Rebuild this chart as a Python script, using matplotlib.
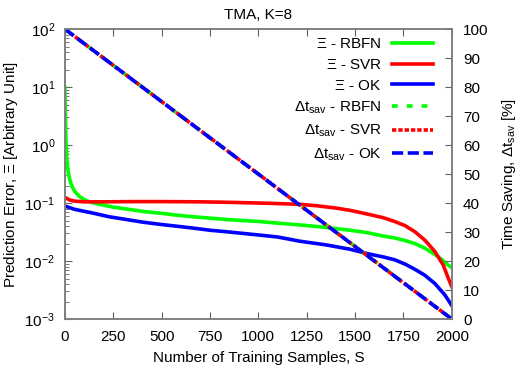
import matplotlib
matplotlib.use("Agg")
import matplotlib.pyplot as plt

plt.rcParams['font.family'] = ['Liberation Sans', 'DejaVu Sans']
plt.rcParams['mathtext.fontset'] = 'custom'
plt.rcParams['mathtext.rm'] = 'Liberation Sans'
plt.rcParams['mathtext.it'] = 'Liberation Sans'
plt.rcParams['font.size'] = 11

# prediction error curves
s_rbfn = [0, 3, 6, 10, 15, 20, 26, 35, 52, 78, 110, 146, 200, 250, 319, 400, 491, 575,
          663, 750, 836, 1008, 1100, 1214, 1350, 1473, 1560, 1645, 1705, 1760, 1809,
          1860, 1912, 1950, 1981, 2000]
err_rbfn = [10, 3.0, 1.2, 0.6, 0.4, 0.31, 0.25, 0.2, 0.157, 0.128, 0.11, 0.101, 0.092,
            0.085, 0.079, 0.072, 0.067, 0.062, 0.058, 0.055, 0.052, 0.048, 0.045, 0.042,
            0.038, 0.034, 0.031, 0.027, 0.025, 0.0225, 0.020, 0.0167, 0.013, 0.0105,
            0.0085, 0.0077]

s_svr = [0, 10, 25, 50, 100, 200, 350, 500, 700, 850, 1008, 1100, 1214, 1300, 1400,
         1473, 1560, 1645, 1705, 1757, 1809, 1860, 1912, 1955, 1981, 2000]
err_svr = [0.125, 0.12, 0.113, 0.108, 0.105, 0.105, 0.106, 0.106, 0.105, 0.103, 0.1,
           0.098, 0.095, 0.09, 0.082, 0.075, 0.065, 0.056, 0.048, 0.041, 0.032, 0.023,
           0.0146, 0.0086, 0.0051, 0.0036]

s_ok = [0, 50, 146, 230, 319, 400, 491, 575, 663, 750, 836, 1008, 1100, 1214, 1350,
        1473, 1560, 1645, 1705, 1760, 1809, 1860, 1912, 1964, 2000]
err_ok = [0.089, 0.078, 0.067, 0.058, 0.052, 0.047, 0.043, 0.04, 0.037, 0.034, 0.032,
          0.028, 0.026, 0.022, 0.019, 0.016, 0.0135, 0.0118, 0.0105, 0.0088, 0.0072,
          0.0057, 0.0041, 0.0026, 0.0017]

# time saving (identical for all three)
s_sav = [0, 2000]
t_sav = [100, 0]

fig = plt.figure(figsize=(5.23, 3.68), dpi=100)
ax = fig.add_axes([0.124, 0.133, 0.740, 0.788])
ax2 = ax.twinx()

GREEN, RED, BLUE = '#00ff00', '#ff0000', '#0000ff'
lw = 2.6

l1, = ax.plot(s_rbfn, err_rbfn, color=GREEN, lw=lw)
l2, = ax.plot(s_svr, err_svr, color=RED, lw=lw)
l3, = ax.plot(s_ok, err_ok, color=BLUE, lw=lw)
l4, = ax2.plot(s_sav, t_sav, color=GREEN, lw=lw, dashes=(1.6, 2.5))
l5, = ax2.plot(s_sav, t_sav, color=RED, lw=lw, dashes=(1.2, 0.55))
l6, = ax2.plot(s_sav, t_sav, color=BLUE, lw=lw, dashes=(3.1, 1.25))

ax.set_yscale('log')
ax.set_ylim(1e-3, 1e2)
ax.set_xlim(0, 2000)
ax.set_xticks(range(0, 2001, 250))
ax2.set_ylim(0, 100)
ax2.set_yticks(range(0, 101, 10))

for a in (ax, ax2):
    for sp in a.spines.values():
        sp.set_color('#808080')
        sp.set_linewidth(1.2)
ax.tick_params(which='both', direction='in', top=True, color='#606060')
ax.tick_params(which='major', length=5)
ax.tick_params(which='minor', length=3)
ax.tick_params(axis='x', pad=8)
ax.tick_params(axis='y', pad=7)
ax2.tick_params(direction='in', length=5, color='#606060', pad=8)

ax.set_title('TMA, K=8', fontsize=11, pad=7)
ax.set_xlabel('Number of Training Samples, S', labelpad=5)
ax.set_ylabel('Prediction Error, $\\Xi$ [Arbitrary Unit]', labelpad=3)
ax2.set_ylabel('Time Saving, $\\Delta$t$_{\\mathrm{sav}}$ [%]', labelpad=8)

labels = ['$\\Xi$ - RBFN', '$\\Xi$ - SVR', '$\\Xi$ - OK',
          '$\\Delta$t$_{\\mathrm{sav}}$ - RBFN', '$\\Delta$t$_{\\mathrm{sav}}$ - SVR',
          '$\\Delta$t$_{\\mathrm{sav}}$ - OK']
ax2.legend([l1, l2, l3, l4, l5, l6], labels, loc='upper right', frameon=False,
           markerfirst=False, handlelength=2.7, labelspacing=0.45,
           borderaxespad=0, borderpad=0, handletextpad=0.65,
           bbox_to_anchor=(1 - 19 / 387, 1 - 8 / 290))

fig.savefig('out.png', dpi=100)
